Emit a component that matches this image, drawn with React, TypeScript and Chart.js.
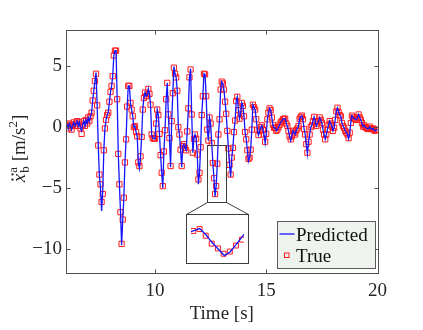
import React, { useEffect, useRef } from 'react';
import { Chart, registerables } from 'chart.js';

Chart.register(...registerables);

const FONT = "'Liberation Serif', 'Times New Roman', serif";
const TEXT_COLOR = '#262626';
const AXIS_COLOR = '#505050';
const LINE_COLOR = '#1414ff';
const MARKER_COLOR = '#ff1a1a';

// sampling grid (s)
const startTime = 6;
const sampleStep = 0.05;

// measured acceleration (True), one row per second
const trueAccel = [
  0.1, 0.2, -0.1, 0.3, 0.1, -0.2, 0.2, 0.4, 0.1, 0.3, 0.5, 0.1, 0.4, -0.1, -0.55, 0.2, 0.5, 0.1, 0.6, 0.3,
  0.8, 0.5, 0.9, 1.2, 2.2, 3.0, 3.8, 4.4, 1.8, -1.5, -3.9, -4.7, -6.15, -5.5, -1.9, -0.1, 0.6, 1.0, 1.2, 2.1,
  2.9, 3.4, 4.2, 5.9, 6.3, 6.3, 2.3, -2.2, -4.7, -7.0, -9.6, -7.6, -5.8, -2.9, -1.0, 1.7, 3.4, 3.4, 2.0, 1.45,
  0.9, 0.0, 0.1, -0.4, -0.75, -2.9, -3.2, -2.4, -0.8, 1.45, 2.4, 2.85, 2.55, 2.6, 3.15, 2.75, 1.85, -0.6, -0.9, -0.95,
  -0.95, 0.3, 1.45, 1.0, -0.55, -2.3, -3.75, -4.85, -2.0, -0.25, 2.3, 3.65, 1.05, -0.9, -3.2, 0.5, 2.8, 4.9, 4.4, 4.1,
  3.0, 0.0, -0.6, -1.85, -3.2, -1.55, -1.4, -1.7, -1.9, -0.35, 1.55, 4.1, 4.75, 1.05, -2.1, -0.95, -0.6, -0.95, -2.25, -4.3,
  -3.75, -1.65, 1.0, 2.55, 4.4, 4.35, 2.55, -0.2, -1.1, 0.8, 0.3, -1.3, -2.95, -4.2, -5.5, -4.85, -3.0, -0.6, 0.65, 3.1,
  3.75, 3.6, 3.1, 2.1, 1.1, -0.3, -1.75, -3.1, -3.9, -2.5, -1.7, -0.4, 0.55, 2.15, 2.5, 1.4, 0.7, 1.1, 2.0, 1.75,
  0.9, -0.4, -1.0, -1.9, -2.6, -2.5, -1.85, -0.2, 1.85, 1.65, 1.45, 0.65, -0.2, -0.65, -0.3, 0.0, 0.15, -0.2, -0.6, -1.2,
  -0.55, 0.65, 1.2, 1.55, 1.4, 0.8, 0.2, -0.05, -0.05, -0.3, -0.2, 0.0, 0.2, 0.4, 0.5, 0.65, 0.7, 0.7, 0.3, 0.1,
  -0.3, -0.75, -1.0, -0.75, -0.3, -0.45, -0.6, -0.25, -0.1, 0.1, 0.7, 0.85, 0.95, 0.65, -0.15, -0.6, -1.4, -2.1, -1.2, -0.6,
  0.0, 0.15, 0.5, 0.85, 0.5, 0.1, 0.3, 0.5, 0.8, 0.6, 0.35, -0.2, -0.6, -1.0, -0.6, -0.2, 0.2, 0.5, 0.3, 0.1,
  -0.3, -0.05, 0.6, 1.3, 1.6, 1.25, 1.0, 0.9, 0.35, 0.1, -0.05, -0.3, -0.45, -0.6, -0.9, -0.45, 0.35, 0.95, 0.8, 0.7,
  0.65, 0.6, 0.8, 1.05, 0.8, 0.6, 0.35, 0.05, 0.15, 0.0, -0.05, -0.15, -0.1, 0.05, -0.15, -0.15, -0.1, -0.25, -0.3, -0.2,
  -0.2,
];

// predicted acceleration, one row per second
const predictedAccel = [
  0.1, 0.2, -0.1, 0.3, 0.1, -0.2, 0.2, 0.4, 0.1, 0.3, 0.5, 0.1, 0.4, -0.1, -0.3, 0.2, 0.5, 0.1, 0.6, 0.3,
  0.8, 0.5, 0.9, 1.2, 2.2, 3.0, 3.8, 4.5, 1.8, -1.5, -4.0, -5.0, -6.9, -5.3, -1.9, -0.1, 0.6, 1.0, 1.2, 2.1,
  2.9, 3.4, 4.2, 5.9, 6.3, 6.3, 2.3, -2.2, -4.7, -7.0, -9.7, -7.6, -5.8, -2.9, -1.0, 1.7, 3.4, 3.4, 2.0, 1.45,
  0.9, 0.0, 0.1, -0.4, -0.75, -2.9, -3.4, -2.4, -0.8, 1.45, 2.4, 2.85, 2.55, 2.6, 3.15, 2.75, 1.85, -0.6, -0.9, -0.95,
  -0.95, 0.3, 1.45, 1.0, -0.55, -2.3, -3.75, -5.0, -2.0, -0.25, 2.3, 3.65, 1.05, -0.9, -3.3, 0.5, 2.8, 5.0, 4.4, 4.1,
  3.0, 0.0, -0.6, -1.85, -3.3, -1.55, -1.4, -1.7, -1.9, -0.35, 1.55, 4.1, 4.8, 1.05, -2.1, -0.95, -0.6, -0.95, -2.25, -4.7,
  -3.75, -1.65, 1.0, 2.55, 4.4, 4.35, 2.55, -0.2, -1.1, 0.8, 0.3, -1.3, -2.95, -4.2, -5.7, -4.85, -3.0, -0.6, 0.65, 3.1,
  3.75, 3.6, 3.1, 2.1, 1.1, -0.3, -1.75, -3.1, -4.1, -2.5, -1.7, -0.4, 0.55, 2.15, 2.5, 1.4, 0.7, 1.1, 2.0, 1.75,
  0.9, -0.4, -1.0, -1.9, -2.8, -2.5, -1.85, -0.2, 1.85, 1.65, 1.45, 0.65, -0.2, -0.65, -0.3, 0.0, 0.15, -0.2, -0.6, -1.3,
  -0.55, 0.65, 1.2, 1.55, 1.4, 0.8, 0.2, -0.05, -0.05, -0.3, -0.2, 0.0, 0.2, 0.4, 0.5, 0.65, 0.7, 0.7, 0.3, 0.1,
  -0.3, -0.75, -1.1, -0.75, -0.3, -0.45, -0.6, -0.25, -0.1, 0.1, 0.7, 0.85, 0.95, 0.65, -0.15, -0.6, -1.4, -2.2, -1.2, -0.6,
  0.0, 0.15, 0.5, 0.85, 0.5, 0.1, 0.3, 0.5, 0.8, 0.6, 0.35, -0.2, -0.6, -1.0, -0.6, -0.2, 0.2, 0.5, 0.3, 0.1,
  -0.3, -0.05, 0.6, 1.3, 1.6, 1.25, 1.0, 0.9, 0.35, 0.1, -0.05, -0.3, -0.45, -0.6, -0.95, -0.45, 0.35, 0.95, 0.8, 0.7,
  0.65, 0.6, 0.8, 1.05, 0.8, 0.6, 0.35, 0.05, 0.15, 0.0, -0.05, -0.15, -0.1, 0.05, -0.15, -0.15, -0.1, -0.25, -0.3, -0.2,
  -0.2,
];

const xRange = [6, 20];
const yRange = [-12, 8];
const xTickValues = [10, 15, 20];
const yTickValues = [-10, -5, 0, 5];
const legendLabels = ['Predicted', 'True'];
const xTitle = 'Time [s]';

// inset (magnified view)
const insetTrueTime = [12.517, 12.565, 12.611, 12.656, 12.703, 12.746, 12.793, 12.84, 12.885];
const insetTrueAccel = [-2.89, -2.67, -3.44, -4.36, -4.92, -5.54, -5.29, -4.58, -3.9];
const insetPredTime = [12.5, 12.565, 12.611, 12.656, 12.703, 12.752, 12.795, 12.84, 12.9];
const insetPredAccel = [-2.98, -2.61, -3.3, -4.18, -4.96, -5.75, -5.33, -4.48, -3.28];
const insetXRange = [12.5, 12.9];
const insetYRange = [-6.15, -1.5];

// zoom window on the main axes, and where the inset sits (data units of the main axes)
const zoomWindow = { t0: 12.32, t1: 13.17, a0: -6.15, a1: -1.5 };
const insetPlace = { t0: 11.41, t1: 14.21, a0: -11.26, a1: -7.11 };

function drawYTitle(ctx: CanvasRenderingContext2D, cx: number, cy: number) {
  ctx.save();
  ctx.translate(cx, cy);
  ctx.rotate(-Math.PI / 2);
  ctx.fillStyle = TEXT_COLOR;
  ctx.textBaseline = 'alphabetic';
  ctx.textAlign = 'left';
  const italic = `italic 19px ${FONT}`;
  const roman = `19px ${FONT}`;
  const small = `13px ${FONT}`;
  ctx.font = italic;
  const wx = ctx.measureText('x').width;
  ctx.font = small;
  const wss = Math.max(ctx.measureText('a').width, ctx.measureText('b').width);
  const w2 = ctx.measureText('2').width;
  ctx.font = roman;
  const wb = ctx.measureText('[m/s').width;
  const we = ctx.measureText(']').width;
  const gap = 5;
  const total = wx + 1 + wss + gap + wb + w2 + we;
  let u = -total / 2;
  ctx.font = italic;
  ctx.fillText('x', u, 0);
  // double dot accent
  const dc = u + wx / 2 + 1;
  ctx.beginPath();
  ctx.arc(dc - 2.6, -12.5, 1.15, 0, Math.PI * 2);
  ctx.arc(dc + 2.6, -12.5, 1.15, 0, Math.PI * 2);
  ctx.fill();
  u += wx + 1;
  ctx.font = small;
  ctx.fillText('a', u, -8);
  ctx.fillText('b', u, 4);
  u += wss + gap;
  ctx.font = roman;
  ctx.fillText('[m/s', u, 0);
  u += wb;
  ctx.font = small;
  ctx.fillText('2', u, -8);
  u += w2;
  ctx.font = roman;
  ctx.fillText(']', u, 0);
  ctx.restore();
}

const decorPlugin = {
  id: 'decor',
  afterDraw(chart: any) {
    const { ctx, chartArea: a, scales } = chart;
    const xs = scales.x;
    const ys = scales.y;
    ctx.save();
    ctx.strokeStyle = AXIS_COLOR;
    ctx.lineWidth = 1;
    const L = Math.round(a.left) + 0.5;
    const R = Math.round(a.right) + 0.5;
    const T = Math.round(a.top) + 0.5;
    const B = Math.round(a.bottom) + 0.5;
    ctx.strokeRect(L, T, R - L, B - T);
    const tl = 4;
    ctx.beginPath();
    for (const v of xTickValues) {
      const px = Math.round(xs.getPixelForValue(v)) + 0.5;
      ctx.moveTo(px, B); ctx.lineTo(px, B - tl);
      ctx.moveTo(px, T); ctx.lineTo(px, T + tl);
    }
    for (const v of yTickValues) {
      const py = Math.round(ys.getPixelForValue(v)) + 0.5;
      ctx.moveTo(L, py); ctx.lineTo(L + tl, py);
      ctx.moveTo(R, py); ctx.lineTo(R - tl, py);
    }
    ctx.stroke();

    // zoom window and connectors
    const zx0 = Math.round(xs.getPixelForValue(zoomWindow.t0)) + 0.5;
    const zx1 = Math.round(xs.getPixelForValue(zoomWindow.t1)) + 0.5;
    const zy0 = Math.round(ys.getPixelForValue(zoomWindow.a1)) + 0.5;
    const zy1 = Math.round(ys.getPixelForValue(zoomWindow.a0)) + 0.5;
    const ix0 = Math.round(xs.getPixelForValue(insetPlace.t0)) + 0.5;
    const ix1 = Math.round(xs.getPixelForValue(insetPlace.t1)) - 0.5;
    const iy0 = Math.round(ys.getPixelForValue(insetPlace.a1)) + 0.5;
    ctx.strokeStyle = '#3c3c3c';
    ctx.strokeRect(zx0, zy0, zx1 - zx0, zy1 - zy0);
    ctx.beginPath();
    ctx.moveTo(zx0, zy1); ctx.lineTo(ix0, iy0);
    ctx.moveTo(zx1, zy1); ctx.lineTo(ix1, iy0);
    ctx.stroke();

    // legend
    const lw = 98, lh = 47;
    const lx = Math.round(a.right - 3 - lw) + 0.5;
    const ly = Math.round(a.bottom - 5 - lh) + 0.5;
    ctx.fillStyle = '#eff3ee';
    ctx.fillRect(lx, ly, lw, lh);
    ctx.strokeStyle = '#5a5a5a';
    ctx.strokeRect(lx, ly, lw, lh);
    ctx.strokeStyle = LINE_COLOR;
    ctx.lineWidth = 1.3;
    ctx.beginPath();
    ctx.moveTo(lx + 2, ly + 12.5); ctx.lineTo(lx + 17, ly + 12.5);
    ctx.stroke();
    ctx.strokeStyle = MARKER_COLOR;
    ctx.lineWidth = 1;
    ctx.strokeRect(lx + 7, ly + 31.5, 4.5, 4.5);
    ctx.fillStyle = '#111';
    ctx.font = `19px ${FONT}`;
    ctx.textAlign = 'left';
    ctx.textBaseline = 'alphabetic';
    ctx.fillText(legendLabels[0], lx + 18.5, ly + 19.5);
    ctx.fillText(legendLabels[1], lx + 18.5, ly + 40);

    // axis titles
    ctx.fillStyle = TEXT_COLOR;
    ctx.textAlign = 'center';
    ctx.fillText(xTitle, (a.left + a.right) / 2, 319);
    ctx.restore();
    drawYTitle(ctx, 25, (a.top + a.bottom) / 2 - 3);
  },
};

const insetPlugin = {
  id: 'insetDecor',
  beforeDraw(chart: any) {
    const { ctx, width, height } = chart;
    ctx.save();
    ctx.fillStyle = '#ffffff';
    ctx.fillRect(0, 0, width, height);
    ctx.restore();
  },
  afterDraw(chart: any) {
    const { ctx, width, height } = chart;
    ctx.save();
    ctx.strokeStyle = '#3c3c3c';
    ctx.lineWidth = 1;
    ctx.strokeRect(0.5, 0.5, width - 1, height - 1);
    ctx.restore();
  },
};

export default function App() {
  const mainRef = useRef<HTMLCanvasElement>(null);
  const insetBoxRef = useRef<HTMLDivElement>(null);
  const insetRef = useRef<HTMLCanvasElement>(null);

  useEffect(() => {
    const times = trueAccel.map((_, i) => startTime + i * sampleStep);
    const fmt = (v: number) => String(v).replace('-', '\u2212');
    const main = new Chart(mainRef.current as HTMLCanvasElement, {
      type: 'line',
      data: {
        datasets: [
          {
            label: legendLabels[0],
            data: predictedAccel.map((v, i) => ({ x: times[i], y: v })),
            borderColor: LINE_COLOR,
            borderWidth: 1.3,
            pointRadius: 0,
            tension: 0,
            fill: false,
          },
          {
            label: legendLabels[1],
            data: trueAccel.map((v, i) => ({ x: times[i], y: v })),
            showLine: false,
            pointStyle: 'rect',
            pointRadius: 3.7,
            pointBorderWidth: 1,
            pointBorderColor: MARKER_COLOR,
            pointBackgroundColor: 'rgba(255,255,255,0)',
            borderColor: MARKER_COLOR,
          },
        ],
      },
      options: {
        animation: false,
        responsive: true,
        maintainAspectRatio: false,
        layout: { padding: { top: 30, right: 45.5, left: 0, bottom: 0 } },
        plugins: { legend: { display: false }, tooltip: { enabled: false } },
        scales: {
          x: {
            type: 'linear',
            min: xRange[0],
            max: xRange[1],
            afterBuildTicks: (s: any) => { s.ticks = xTickValues.map((v) => ({ value: v })); },
            afterFit: (s: any) => { s.height = 57; },
            grid: { display: false, drawTicks: false },
            border: { display: false },
            ticks: {
              padding: 7,
              color: TEXT_COLOR,
              font: { family: FONT, size: 19 },
              maxRotation: 0,
              callback: (v: any) => fmt(v),
            },
          },
          y: {
            type: 'linear',
            min: yRange[0],
            max: yRange[1],
            afterBuildTicks: (s: any) => { s.ticks = yTickValues.map((v) => ({ value: v })); },
            afterFit: (s: any) => { s.width = 66; },
            grid: { display: false, drawTicks: false },
            border: { display: false },
            ticks: {
              padding: 4,
              color: TEXT_COLOR,
              font: { family: FONT, size: 19 },
              callback: (v: any) => fmt(v),
            },
          },
        },
      },
      plugins: [decorPlugin],
    });

    const xs = main.scales.x;
    const ys = main.scales.y;
    const left = Math.round(xs.getPixelForValue(insetPlace.t0));
    const right = Math.round(xs.getPixelForValue(insetPlace.t1));
    const top = Math.round(ys.getPixelForValue(insetPlace.a1));
    const bottom = Math.round(ys.getPixelForValue(insetPlace.a0));
    const box = insetBoxRef.current as HTMLDivElement;
    box.style.left = `${left}px`;
    box.style.top = `${top}px`;
    box.style.width = `${right - left}px`;
    box.style.height = `${bottom - top}px`;

    const inset = new Chart(insetRef.current as HTMLCanvasElement, {
      type: 'line',
      data: {
        datasets: [
          {
            data: insetPredTime.map((t, i) => ({ x: t, y: insetPredAccel[i] })),
            borderColor: LINE_COLOR,
            borderWidth: 1.3,
            pointRadius: 0,
            tension: 0,
          },
          {
            data: insetTrueTime.map((t, i) => ({ x: t, y: insetTrueAccel[i] })),
            showLine: false,
            pointStyle: 'rect',
            pointRadius: 3.5,
            pointBorderWidth: 1,
            pointBorderColor: MARKER_COLOR,
            pointBackgroundColor: 'rgba(255,255,255,0)',
          },
        ],
      },
      options: {
        animation: false,
        responsive: true,
        maintainAspectRatio: false,
        layout: { padding: 0 },
        plugins: { legend: { display: false }, tooltip: { enabled: false } },
        scales: {
          x: { type: 'linear', display: false, min: insetXRange[0], max: insetXRange[1] },
          y: { type: 'linear', display: false, min: insetYRange[0], max: insetYRange[1] },
        },
      },
      plugins: [insetPlugin],
    });

    return () => {
      inset.destroy();
      main.destroy();
    };
  }, []);

  return (
    <div style={{ position: 'fixed', left: 0, top: 0, width: 423, height: 330, background: '#fff' }}>
      <canvas ref={mainRef} />
      <div ref={insetBoxRef} style={{ position: 'absolute' }}>
        <canvas ref={insetRef} />
      </div>
    </div>
  );
}
